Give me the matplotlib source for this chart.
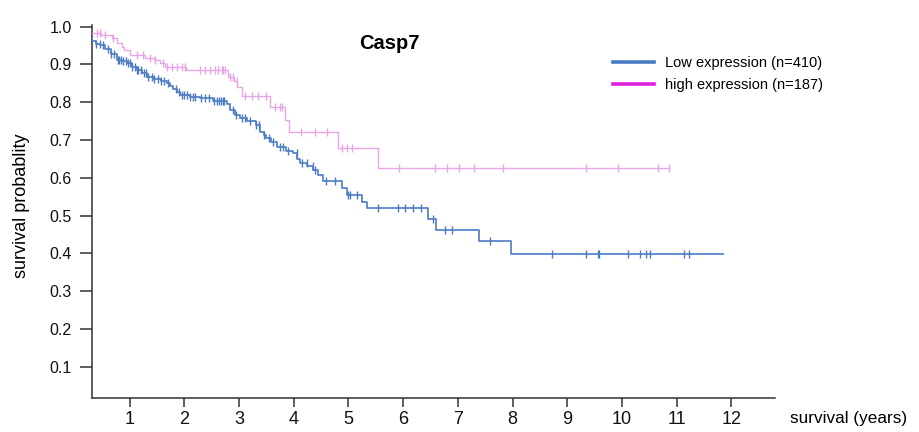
#!/usr/bin/env python3
import matplotlib

matplotlib.use("Agg")
import matplotlib.pyplot as plt
import numpy as np
from matplotlib.lines import Line2D

plt.rcParams["font.family"] = ["Liberation Sans", "DejaVu Sans"]

TITLE = "Casp7"
LOW_LABEL = "Low expression (n=410)"
HIGH_LABEL = "high expression (n=187)"

# Kaplan-Meier steps: event time (years) and survival after it
LOW_TIMES = [0.0, 0.05, 0.15, 0.25, 0.31, 0.38, 0.46, 0.55, 0.65, 0.76, 0.85, 0.95,
             1.05, 1.13, 1.22, 1.31, 1.45, 1.58, 1.68, 1.74, 1.80, 1.86, 1.92, 2.10,
             2.29, 2.53, 2.77, 2.83, 2.93, 3.02, 3.14, 3.30, 3.38, 3.45, 3.50, 3.58,
             3.69, 3.85, 3.99, 4.06, 4.11, 4.25, 4.36, 4.45, 4.54, 4.88, 4.97, 5.24,
             5.33, 6.46, 6.60, 7.39, 7.97]
LOW_SURV = [1.0, 0.99, 0.98, 0.97, 0.963, 0.955, 0.951, 0.94, 0.928, 0.912, 0.908, 0.903,
            0.893, 0.885, 0.876, 0.867, 0.862, 0.857, 0.850, 0.843, 0.835, 0.826, 0.819, 0.814,
            0.810, 0.804, 0.795, 0.779, 0.767, 0.757, 0.749, 0.740, 0.722, 0.712, 0.705, 0.696,
            0.682, 0.672, 0.665, 0.650, 0.639, 0.630, 0.621, 0.608, 0.592, 0.573, 0.555, 0.537,
            0.520, 0.490, 0.462, 0.434, 0.398]
LOW_END = 11.84
LOW_CENSOR = [0.38, 0.45, 0.52, 0.60, 0.66, 0.72, 0.78, 0.80, 0.84, 0.88, 0.93, 0.97,
              1.00, 1.05, 1.10, 1.13, 1.16, 1.20, 1.27, 1.30, 1.33, 1.40, 1.45, 1.52,
              1.58, 1.62, 1.70, 1.85, 1.90, 1.95, 2.00, 2.05, 2.10, 2.15, 2.20, 2.30,
              2.38, 2.45, 2.55, 2.60, 2.63, 2.67, 2.70, 2.72, 2.88, 2.95, 3.05, 3.10,
              3.20, 3.30, 3.36, 3.45, 3.55, 3.62, 3.75, 3.80, 3.90, 4.05, 4.15, 4.24,
              4.35, 4.39, 4.59, 4.75, 5.00, 5.02, 5.15, 5.54, 5.91, 6.03, 6.18, 6.33,
              6.54, 6.76, 6.89, 7.59, 8.73, 9.35, 9.57, 9.58, 10.12, 10.34, 10.45,
              10.51, 11.14, 11.23]

HIGH_TIMES = [0.0, 0.10, 0.20, 0.48, 0.68, 0.77, 0.85, 0.90, 1.00, 1.28, 1.45, 1.55,
              1.65, 2.03, 2.80, 2.90, 2.97, 3.05, 3.56, 3.84, 3.92, 4.80, 5.54]
HIGH_SURV = [1.0, 0.99, 0.984, 0.978, 0.970, 0.957, 0.947, 0.938, 0.925, 0.917, 0.912, 0.904,
             0.893, 0.885, 0.867, 0.857, 0.840, 0.817, 0.788, 0.753, 0.722, 0.679, 0.627]
HIGH_END = 10.86
HIGH_CENSOR = [0.40, 0.46, 0.55, 0.69, 1.13, 1.24, 1.37, 1.46, 1.61, 1.68, 1.77, 1.86,
               1.96, 2.01, 2.29, 2.38, 2.47, 2.56, 2.62, 2.69, 2.71, 2.74, 2.83, 2.89,
               2.96, 3.11, 3.23, 3.35, 3.49, 3.66, 3.75, 3.78, 4.13, 4.38, 4.60, 4.88,
               4.97, 5.06, 5.93, 6.58, 6.80, 7.02, 7.30, 7.83, 9.35, 9.93, 10.66, 10.86]

X_TICKS = list(range(1, 13))
Y_TICKS = [0.1, 0.2, 0.3, 0.4, 0.5, 0.6, 0.7, 0.8, 0.9, 1.0]

LOW_COLOR = "#4a7bc4"
HIGH_COLOR = "#e8a6e8"
LOW_LEGEND = "#4a7bc4"
HIGH_LEGEND = "#e020e0"
AXIS_COLOR = "#333333"


def draw_km(ax, times, surv, end, censor, color, lw):
    t = np.array(list(times) + [end])
    s = np.array(list(surv) + [surv[-1]])
    ax.step(t, s, where="post", color=color, lw=lw, zorder=3)
    idx = np.searchsorted(np.array(times), np.array(censor), side="right") - 1
    cs = np.array(surv)[idx]
    ax.plot(censor, cs, linestyle="none", marker="|", markersize=6,
            markeredgewidth=1.0, color=color, zorder=4)


def main():
    fig = plt.figure(figsize=(9.2, 4.32), dpi=100)
    ax = fig.add_axes([92 / 920, 1 - 398 / 432, 683 / 920, 373 / 432])

    draw_km(ax, HIGH_TIMES, HIGH_SURV, HIGH_END, HIGH_CENSOR, HIGH_COLOR, 1.0)
    draw_km(ax, LOW_TIMES, LOW_SURV, LOW_END, LOW_CENSOR, LOW_COLOR, 1.2)

    ax.set_xlim(0.31, 12.8)
    ax.set_ylim(0.018, 1.004)
    ax.set_xticks(X_TICKS)
    ax.set_yticks(Y_TICKS)
    ax.set_xticklabels([str(v) for v in X_TICKS], fontsize=13)
    ax.set_yticklabels([f"{v:.1f}" for v in Y_TICKS], fontsize=11.5)
    ax.tick_params(axis="y", length=8.5, width=1.1, pad=6, colors="#111111")
    ax.tick_params(axis="x", length=6.5, width=1.1, pad=3, colors="#111111")
    for side in ("top", "right"):
        ax.spines[side].set_visible(False)
    for side in ("left", "bottom"):
        ax.spines[side].set_color(AXIS_COLOR)
        ax.spines[side].set_linewidth(1.1)
    ax.tick_params(color=AXIS_COLOR)

    ax.text(0.436, 0.95, TITLE, transform=ax.transAxes, ha="center", va="center",
            fontsize=14.5, fontweight="bold")

    handles = [
        Line2D([], [], color=LOW_LEGEND, lw=2.6),
        Line2D([], [], color=HIGH_LEGEND, lw=2.6),
    ]
    fig.legend(handles, [LOW_LABEL, HIGH_LABEL], loc="upper left",
               bbox_to_anchor=(613 / 920, 1 - 56 / 432), frameon=False,
               fontsize=10.5, handlelength=2.8, handletextpad=0.8,
               labelspacing=0.55, borderpad=0, borderaxespad=0)

    fig.text(22 / 920, 1 - 206 / 432, "survival probablity", rotation=90,
             ha="center", va="center", fontsize=13)
    fig.text(790 / 920, 1 - 419 / 432, "survival (years)", ha="left",
             va="center", fontsize=12.3)

    fig.savefig("out.png", dpi=100)
    plt.close(fig)


if __name__ == "__main__":
    main()
